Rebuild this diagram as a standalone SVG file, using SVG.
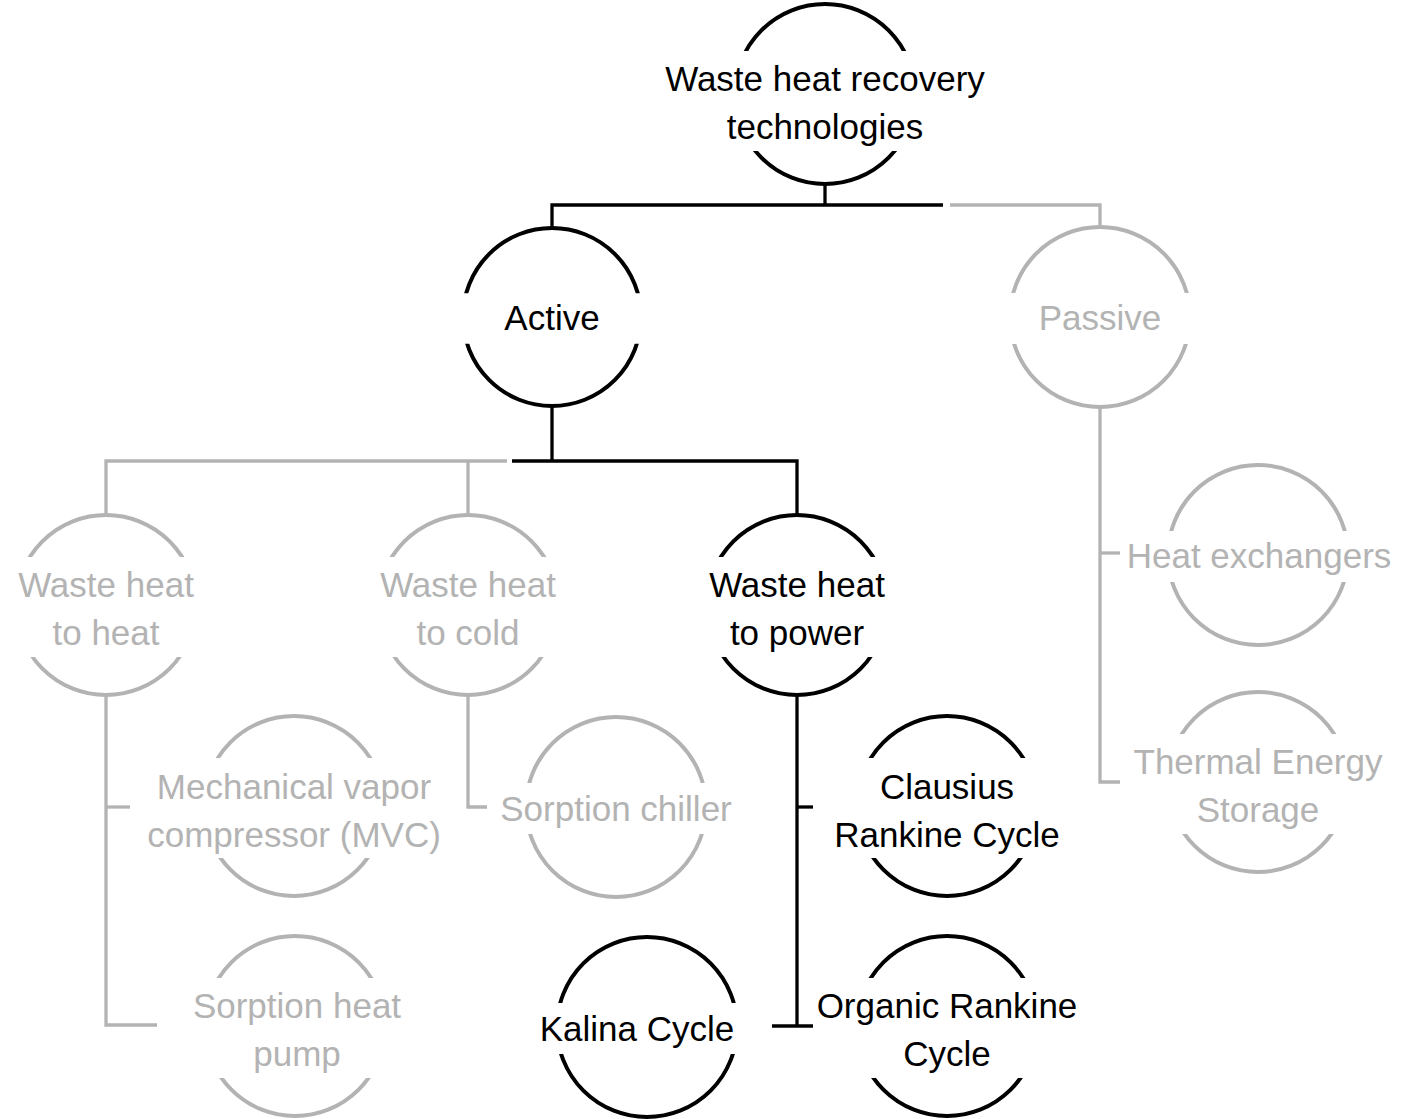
<svg xmlns="http://www.w3.org/2000/svg" width="1402" height="1119" viewBox="0 0 1402 1119">
<style>
.k{stroke:#000000}
.g{stroke:#b3b3b3}
.ring{fill:none;stroke-width:4}
.ln{fill:none;stroke-width:3.3;stroke-linejoin:miter;stroke-linecap:butt}
text{font-family:"Liberation Sans",Arial,sans-serif;font-size:35px;text-anchor:middle}
.tk{fill:#000000}
.tg{fill:#b3b3b3}
</style>
<defs>
<clipPath id="c1" clipPathUnits="objectBoundingBox">
<rect x="-0.1" y="-0.1" width="1.2" height="0.4667"/>
<rect x="-0.1" y="0.65" width="1.2" height="0.45"/>
</clipPath>
<clipPath id="c2" clipPathUnits="objectBoundingBox">
<rect x="-0.1" y="-0.1" width="1.2" height="0.3333"/>
<rect x="-0.1" y="0.7889" width="1.2" height="0.3111"/>
</clipPath>
<clipPath id="c0" clipPathUnits="objectBoundingBox">
<rect x="-0.1" y="-0.1" width="1.2" height="0.3611"/>
<rect x="-0.1" y="0.8167" width="1.2" height="0.2833"/>
</clipPath>
</defs>
<g id="connectors">
<path class="ln k" d="M 825 185 V 205"/>
<path class="ln k" d="M 552 228 V 205 H 943"/>
<path class="ln g" d="M 950 205 H 1100 V 227"/>
<path class="ln k" d="M 552 406 V 461"/>
<path class="ln g" d="M 507 461 H 106 V 515"/>
<path class="ln g" d="M 468 461 V 515"/>
<path class="ln k" d="M 512 461 H 797 V 515"/>
<path class="ln g" d="M 106 697 V 1025 H 157"/>
<path class="ln g" d="M 106 807 H 130"/>
<path class="ln g" d="M 468 697 V 807 H 487"/>
<path class="ln k" d="M 797 697 V 1026"/>
<path class="ln k" d="M 797 807 H 813"/>
<path class="ln k" d="M 772 1026 H 813"/>
<path class="ln g" d="M 1100 408 V 782 H 1120"/>
<path class="ln g" d="M 1100 553 H 1120"/>
</g>
<g id="n-root">
<circle class="ring k" cx="825" cy="94" r="90" clip-path="url(#c0)"/>
<text class="tk" x="825" y="91">Waste heat recovery</text>
<text class="tk" x="825" y="139">technologies</text>
</g>
<g id="n-active">
<circle class="ring k" cx="552" cy="317" r="89" clip-path="url(#c1)"/>
<text class="tk" x="552" y="330">Active</text>
</g>
<g id="n-passive">
<circle class="ring g" cx="1100" cy="317" r="90" clip-path="url(#c1)"/>
<text class="tg" x="1100" y="330">Passive</text>
</g>
<g id="n-heat">
<circle class="ring g" cx="106" cy="605" r="90" clip-path="url(#c2)"/>
<text class="tg" x="106" y="597">Waste heat</text>
<text class="tg" x="106" y="645">to heat</text>
</g>
<g id="n-cold">
<circle class="ring g" cx="468" cy="605" r="90" clip-path="url(#c2)"/>
<text class="tg" x="468" y="597">Waste heat</text>
<text class="tg" x="468" y="645">to cold</text>
</g>
<g id="n-power">
<circle class="ring k" cx="797" cy="605" r="90" clip-path="url(#c2)"/>
<text class="tk" x="797" y="597">Waste heat</text>
<text class="tk" x="797" y="645">to power</text>
</g>
<g id="n-mvc">
<circle class="ring g" cx="294" cy="806" r="90" clip-path="url(#c2)"/>
<text class="tg" x="294" y="799">Mechanical vapor</text>
<text class="tg" x="294" y="847">compressor (MVC)</text>
</g>
<g id="n-shp">
<circle class="ring g" cx="295" cy="1026" r="90" clip-path="url(#c2)"/>
<text class="tg" x="297" y="1018">Sorption heat</text>
<text class="tg" x="297" y="1066">pump</text>
</g>
<g id="n-chiller">
<circle class="ring g" cx="616" cy="807" r="90" clip-path="url(#c1)"/>
<text class="tg" x="616" y="821">Sorption chiller</text>
</g>
<g id="n-clausius">
<circle class="ring k" cx="947" cy="806" r="90" clip-path="url(#c2)"/>
<text class="tk" x="947" y="799">Clausius</text>
<text class="tk" x="947" y="847">Rankine Cycle</text>
</g>
<g id="n-kalina">
<circle class="ring k" cx="647" cy="1027" r="90" clip-path="url(#c1)"/>
<text class="tk" x="637" y="1041">Kalina Cycle</text>
</g>
<g id="n-orc">
<circle class="ring k" cx="947" cy="1026" r="90" clip-path="url(#c2)"/>
<text class="tk" x="947" y="1018">Organic Rankine</text>
<text class="tk" x="947" y="1066">Cycle</text>
</g>
<g id="n-hx">
<circle class="ring g" cx="1258" cy="555" r="90" clip-path="url(#c1)"/>
<text class="tg" x="1259" y="568">Heat exchangers</text>
</g>
<g id="n-tes">
<circle class="ring g" cx="1258" cy="782" r="90" clip-path="url(#c2)"/>
<text class="tg" x="1258" y="774">Thermal Energy</text>
<text class="tg" x="1258" y="822">Storage</text>
</g>
</svg>
